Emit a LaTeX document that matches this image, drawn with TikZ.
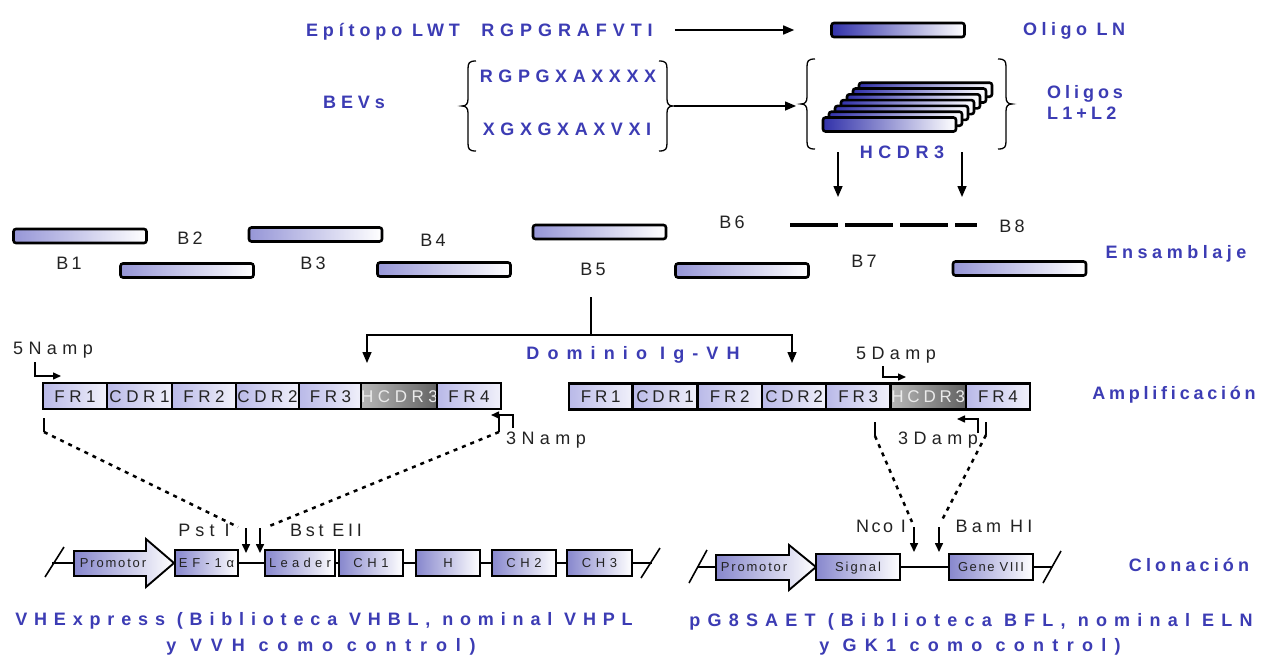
\documentclass[tikz,border=0pt]{standalone}
\usepackage{fontspec}
\setmainfont{Liberation Sans}
\usetikzlibrary{arrows.meta}
\definecolor{lblue}{RGB}{60,60,180}
\definecolor{lav}{RGB}{150,150,215}
\definecolor{dkblue}{RGB}{50,50,170}
\definecolor{cellc}{RGB}{185,185,232}
\definecolor{boxc}{RGB}{135,135,205}
\definecolor{txtg}{RGB}{35,35,35}
\newcommand{\trk}[2]{{\addfontfeature{LetterSpace=#1}#2}}
\begin{document}
\begin{tikzpicture}[x=1pt,y=-1pt,
  bluelab/.style={font=\fontsize{18}{21}\bfseries\selectfont, text=lblue, inner sep=0pt, text height=13pt, text depth=0pt},
  blk/.style={font=\fontsize{18}{20}\selectfont, text=txtg, inner sep=0pt, text height=13pt, text depth=0pt},
  lbar/.style={draw=black, line width=2.6pt, rounded corners=2.5pt, left color=lav, right color=white, minimum width=133pt, minimum height=14pt, inner sep=0pt},
  dbar/.style={lbar, left color=dkblue},
  cell/.style={draw=black, line width=2.4pt, left color=cellc, right color=white!80!cellc, minimum height=26pt, inner sep=0pt, font=\fontsize{17}{19}\selectfont, text=txtg, text height=12pt, text depth=0pt},
  hcell/.style={cell, left color=black!28, right color=black!62, text=white!92!black},
  cbox/.style={draw=black, line width=1.9pt, left color=boxc, right color=white, minimum height=26pt, inner sep=0pt, font=\fontsize{13}{15}\selectfont, text=txtg, text height=9.5pt, text depth=0pt},
  arr/.style={line width=1.5pt, -{Triangle[length=11pt,width=9pt]}},
  marr/.style={line width=1.6pt, -{Triangle[length=9pt,width=8pt]}},
  sarr/.style={line width=1.5pt, -{Triangle[length=8pt,width=7pt]}},
  dots/.style={line width=2.5pt, dash pattern=on 4pt off 5pt},
  brc/.style={line width=1.3pt},
  bbone/.style={line width=1.6pt},
  promo/.style={draw=black, line width=1.9pt, left color=boxc, right color=white},
  lbr/.pic={\draw[brc] (14,-45) .. controls (7,-45) and (6,-43) .. (6,-37) -- (6,-7) .. controls (6,-2) and (4,0) .. (0,0) .. controls (4,0) and (6,2) .. (6,7) -- (6,37) .. controls (6,43) and (7,45) .. (14,45);},
  rbr/.pic={\draw[brc] (-14,-45) .. controls (-7,-45) and (-6,-43) .. (-6,-37) -- (-6,-7) .. controls (-6,-2) and (-4,0) .. (0,0) .. controls (-4,0) and (-6,2) .. (-6,7) -- (-6,37) .. controls (-6,43) and (-7,45) .. (-14,45);}
]
\useasboundingbox (0,0) rectangle (1262,654);
\fill[white] (0,0) rectangle (1262,654);

% ---------- row 1
\node[bluelab] (epi1) at (383,30) {\trk{27}{Epítopo LWT}};
\node[bluelab] (epi2) at (567,30) {\trk{33}{RGPGRAFVTI}};
\node[dbar] (oln) at (898,30) {};
\node[bluelab] (olnl) at (1074,29) {\trk{25}{Oligo LN}};
\draw[arr, shorten <=22pt, shorten >=36pt] (epi2.east) -- (oln.west);

% ---------- row 2
\node[bluelab] (bevs) at (354,102) {\trk{27}{BEVs}};
\pic at (462,106) {lbr};
\node[bluelab] (s1) at (568,76) {\trk{31}{RGPGXAXXXX}};
\node[bluelab] (s2) at (567,129) {\trk{31}{XGXGXAXVXI}};
\pic at (673,106) {rbr};
\coordinate (bv) at (674,106);
\coordinate (ol) at (796,106);
\draw[arr] (bv) -- (ol);
\pic at (801,104) {lbr};
\foreach \i in {6,5,...,0} {
  \node[dbar] (h\i) at ({889.5+6*\i},{124.5-5.8*\i}) {};
}
\pic at (1012,104) {rbr};
\node[bluelab, anchor=west] (olg1) at (1047,92) {\trk{22}{Oligos}};
\node[bluelab, anchor=west] (olg2) at (1047,113) {\trk{23}{L1+L2}};
\node[bluelab] (hcl) at (902,152) {\trk{31}{HCDR3}};
\coordinate (d1s) at (838,152); \coordinate (d1e) at (838,197);
\coordinate (d2s) at (962,152); \coordinate (d2e) at (962,197);
\draw[arr] (d1s) -- (d1e);
\draw[arr] (d2s) -- (d2e);

% ---------- row 3: ensamblaje
\node[lbar] (b1) at (80,236) {};
\node[lbar] (b2) at (187,270.5) {};
\node[lbar] (b3) at (315.5,234.5) {};
\node[lbar] (b4) at (444,269.5) {};
\node[lbar] (b5) at (599.5,232) {};
\node[lbar] (b7) at (742,270.5) {};
\node[lbar] (b8) at (1019.5,268.5) {};
\coordinate (b6s) at (790,225); \coordinate (b6e) at (977,225);
\draw[line width=4pt, dash pattern=on 48pt off 7pt] (b6s) -- (b6e);
\node[blk] (lb1) at (69,263) {\trk{18}{B1}};
\node[blk] (lb2) at (190,238) {\trk{18}{B2}};
\node[blk] (lb3) at (313,263) {\trk{18}{B3}};
\node[blk] (lb4) at (433,240) {\trk{18}{B4}};
\node[blk] (lb5) at (593,269) {\trk{18}{B5}};
\node[blk] (lb6) at (732,222) {\trk{18}{B6}};
\node[blk] (lb7) at (864,261) {\trk{18}{B7}};
\node[blk] (lb8) at (1012,226) {\trk{18}{B8}};
\node[bluelab] (ens) at (1176,252) {\trk{25}{Ensamblaje}};

% ---------- tree
\coordinate (stem) at (591,297);
\coordinate (sp) at (591,335);
\draw[line width=1.5pt] (stem) -- (sp);
\coordinate (tl) at (367,363);
\coordinate (tr) at (792,363);
\draw[arr] (sp) -| (tl);
\draw[arr] (sp) -| (tr);
\node[bluelab] (dom) at (633,353) {\trk{45}{Dominio Ig-VH}};

% ---------- amplificacion: left gene
\node[cell, minimum width=64] (g1) at (75,396) {\trk{27}{FR1}};
\node[cell, minimum width=65] (g2) at (139.5,396) {\trk{27}{CDR1}};
\node[cell, minimum width=64] (g3) at (204,396) {\trk{27}{FR2}};
\node[cell, minimum width=63] (g4) at (267.5,396) {\trk{27}{CDR2}};
\node[cell, minimum width=63] (g5) at (330.5,396) {\trk{27}{FR3}};
\node[hcell, minimum width=75] (g6) at (399.5,396) {\trk{27}{HCDR3}};
\node[cell, minimum width=64] (g7) at (469,396) {\trk{27}{FR4}};
% right gene
\node[cell, minimum width=63.5] (r1) at (600.75,396.5) {\trk{22}{FR1}};
\node[cell, minimum width=65] (r2) at (665,396.5) {\trk{22}{CDR1}};
\node[cell, minimum width=64.5] (r3) at (729.75,396.5) {\trk{22}{FR2}};
\node[cell, minimum width=64] (r4) at (794,396.5) {\trk{22}{CDR2}};
\node[cell, minimum width=64.5] (r5) at (858.25,396.5) {\trk{22}{FR3}};
\node[hcell, minimum width=75.5] (r6) at (928.25,396.5) {\trk{22}{HCDR3}};
\node[cell, minimum width=64] (r7) at (998,396.5) {\trk{22}{FR4}};
\node[bluelab] (amp) at (1174,393) {\trk{21}{Amplificación}};

% primers
\node[blk] (p5n) at (53,348) {\trk{30}{5Namp}};
\node[blk] (p3n) at (546,438) {\trk{30}{3Namp}};
\node[blk] (p5d) at (896,353) {\trk{30}{5Damp}};
\node[blk] (p3d) at (938,438) {\trk{30}{3Damp}};
\coordinate (a5ns) at (35,362); \coordinate (a5ne) at (61,376);
\coordinate (a3ns) at (513,428); \coordinate (a3ne) at (491,415);
\coordinate (a5ds) at (883,366); \coordinate (a5de) at (906,377);
\coordinate (a3ds) at (978,433); \coordinate (a3de) at (957,419);
\draw[sarr] (a5ns) |- (a5ne);
\draw[sarr] (a3ns) |- (a3ne);
\draw[sarr] (a5ds) |- (a5de);
\draw[sarr] (a3ds) |- (a3de);

% ---------- dotted guides
\coordinate (ql0) at (44,418); \coordinate (ql1) at (44,432); \coordinate (ql2) at (238,527);
\coordinate (qr0) at (499,416); \coordinate (qr1) at (499,432); \coordinate (qr2) at (267,527);
\draw[line width=2pt] (ql0) -- (ql1);
\draw[dots] (ql1) -- (ql2);
\draw[line width=2pt] (qr0) -- (qr1);
\draw[dots] (qr1) -- (qr2);
\coordinate (Ql0) at (875,422); \coordinate (Ql1) at (875,436); \coordinate (Ql2) at (912,522);
\coordinate (Qr0) at (986,422); \coordinate (Qr1) at (986,435); \coordinate (Qr2) at (941,522);
\draw[line width=2pt] (Ql0) -- (Ql1);
\draw[dots] (Ql1) -- (Ql2);
\draw[line width=2pt] (Qr0) -- (Qr1);
\draw[dots] (Qr1) -- (Qr2);

% ---------- clonacion left
\node[blk] (pst) at (204,530) {\trk{28}{Pst I}};
\node[blk] (bst) at (326,530) {\trk{21}{Bst EII}};
\coordinate (c1s) at (246,528); \coordinate (c1e) at (246,553);
\coordinate (c2s) at (260,528); \coordinate (c2e) at (260,553);
\draw[marr] (c1s) -- (c1e);
\draw[marr] (c2s) -- (c2e);
\coordinate (bl0) at (52,563); \coordinate (bl1) at (652,563);
\draw[bbone] (bl0) -- (bl1);
\draw[bbone] (45,577) -- (64,547);
\draw[bbone] (641,578) -- (660,548);
\path[promo] (74,551) -- (146,551) -- (146,539) -- (174,563) -- (146,587) -- (146,576) -- (74,576) -- cycle;
\node[cbox, draw=none, fill=none, shade=none] (prl) at (113,563) {\trk{14}{Promotor}};
\node[cbox, minimum width=63] (ef) at (206.5,563) {\trk{38}{EF-1α}};
\node[cbox, minimum width=70] (lead) at (300,563) {\trk{33}{Leader}};
\node[cbox, minimum width=64] (ch1) at (371,563) {\trk{35}{CH1}};
\node[cbox, minimum width=64] (hh) at (448,563) {\trk{35}{H}};
\node[cbox, minimum width=64] (ch2) at (524,563) {\trk{35}{CH2}};
\node[cbox, minimum width=65] (ch3) at (599.5,563) {\trk{35}{CH3}};
\node[bluelab] (vh1) at (324,619) {\trk{38}{VHExpress (Biblioteca VHBL, nominal VHPL}};
\node[bluelab] (vh2) at (321,645) {\trk{49}{y VVH como control)}};

% ---------- clonacion right
\node[blk] (nco) at (881,526) {\trk{14}{Nco I}};
\node[blk] (bam) at (994,526) {\trk{23}{Bam HI}};
\coordinate (e1s) at (914,527); \coordinate (e1e) at (914,552);
\coordinate (e2s) at (939,527); \coordinate (e2e) at (939,552);
\draw[marr] (e1s) -- (e1e);
\draw[marr] (e2s) -- (e2e);
\coordinate (br0) at (697,567); \coordinate (br1) at (1052,567);
\draw[bbone] (br0) -- (br1);
\draw[bbone] (689,583) -- (707,550);
\draw[bbone] (1043,583) -- (1061,551);
\path[promo] (716,555) -- (789,555) -- (789,545) -- (816,567) -- (789,590) -- (789,580) -- (716,580) -- cycle;
\node[cbox, draw=none, fill=none, shade=none] (prr) at (754,567) {\trk{14}{Promotor}};
\node[cbox, minimum width=84] (sig) at (858,567) {\trk{15}{Signal}};
\node[cbox, minimum width=84] (g8) at (991,567) {\trk{12}{Gene VIII}};
\node[bluelab] (clo) at (1189,565) {\trk{23}{Clonación}};
\node[bluelab] (pg1) at (971,620) {\trk{40}{pG8SAET (Biblioteca BFL, nominal ELN}};
\node[bluelab] (pg2) at (970,645) {\trk{46}{y GK1 como control)}};
\end{tikzpicture}
\end{document}
